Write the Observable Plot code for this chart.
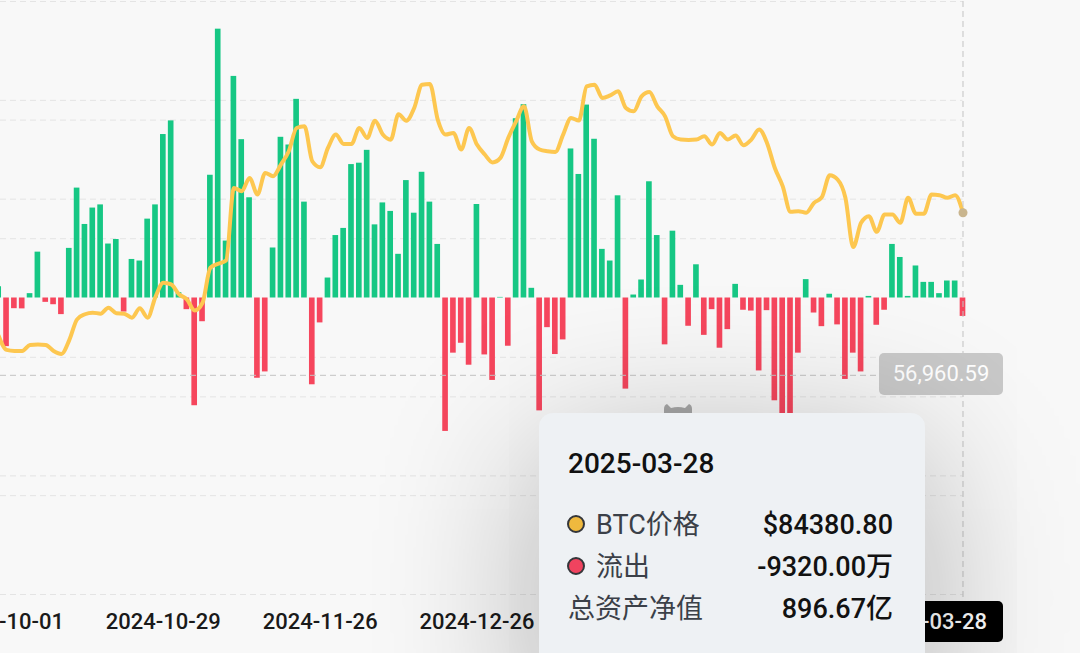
<!DOCTYPE html>
<html>
<head>
<meta charset="utf-8">
<script src="https://cdn.jsdelivr.net/npm/d3@7"></script>
<script src="https://cdn.jsdelivr.net/npm/@observablehq/plot@0.6"></script>
<style>
html,body{margin:0;padding:0;background:#f8f8f8;}
#wrap{position:relative;width:1080px;height:653px;overflow:hidden;background:#f8f8f8;font-family:Roboto,"Noto Sans CJK SC",sans-serif;}
#chart{position:absolute;left:0;top:0;}
#priceTag{position:absolute;left:879px;top:353px;width:124px;height:42px;line-height:42px;background:#c9c9c9;color:#fff;border-radius:5px;text-align:center;font-size:22px;}
#dateTag{position:absolute;left:868px;top:601px;width:135px;height:41px;line-height:41px;background:#000;color:#fff;border-radius:5px;text-align:right;padding-right:16px;box-sizing:border-box;font-size:22px;font-weight:500;}
#logo{position:absolute;left:660px;top:403px;width:36px;height:20px;}
#tip{position:absolute;left:539px;top:413px;width:386px;height:290px;background:#eef1f4;border-radius:14px;box-shadow:0 40px 160px rgba(0,0,0,0.32);}
#tip .row{position:absolute;height:40px;line-height:40px;white-space:nowrap;}
#tip .lab{color:#3b4048;font-size:27px;}
#tip .val{color:#121212;font-size:27px;text-align:right;right:32px;font-weight:500;}
#tip .dot{position:absolute;width:14px;height:14px;border-radius:50%;border:2.5px solid #34363a;}
</style>
</head>
<body>
<div id="wrap">
  <div id="chart"></div>
  <div id="priceTag"></div>
  <div id="dateTag"></div>
  <svg id="logo" viewBox="0 0 36 20"><path d="M4 20 L4 6 Q4 2 7 1 L11 5 Q18 3 25 5 L29 1 Q32 2 32 6 L32 20 Z" fill="#a9a9a9"/></svg>
  <div id="tip">
    <div class="row" id="tDate" style="left:29px;top:31px;font-size:28px;color:#111;font-weight:500;"></div>
    <div class="dot" style="left:28px;top:102px;background:#efb93e;"></div>
    <div class="row lab" style="left:57px;top:92px;">BTC价格</div>
    <div class="row val" id="tPrice" style="top:92px;"></div>
    <div class="dot" style="left:28px;top:144px;background:#f0435f;"></div>
    <div class="row lab" id="tFlowLab" style="left:57px;top:134px;"></div>
    <div class="row val" id="tFlow" style="top:134px;"></div>
    <div class="row lab" style="left:29px;top:176px;">总资产净值</div>
    <div class="row val" id="tNav" style="top:176px;"></div>
  </div>
</div>
<script>
// ---- data ----
const dates = [
"2024-09-30",
"2024-10-01","2024-10-02","2024-10-03","2024-10-04","2024-10-07","2024-10-08","2024-10-09","2024-10-10","2024-10-11","2024-10-14","2024-10-15","2024-10-16","2024-10-17","2024-10-18","2024-10-21","2024-10-22","2024-10-23","2024-10-24","2024-10-25","2024-10-28","2024-10-29","2024-10-30","2024-10-31",
"2024-11-01","2024-11-04","2024-11-05","2024-11-06","2024-11-07","2024-11-08","2024-11-11","2024-11-12","2024-11-13","2024-11-14","2024-11-15","2024-11-18","2024-11-19","2024-11-20","2024-11-21","2024-11-22","2024-11-25","2024-11-26","2024-11-27","2024-11-29",
"2024-12-02","2024-12-03","2024-12-04","2024-12-05","2024-12-06","2024-12-09","2024-12-10","2024-12-11","2024-12-12","2024-12-13","2024-12-16","2024-12-17","2024-12-18","2024-12-19","2024-12-20","2024-12-23","2024-12-24","2024-12-26","2024-12-27","2024-12-30","2024-12-31",
"2025-01-02","2025-01-03","2025-01-06","2025-01-07","2025-01-08","2025-01-10","2025-01-13","2025-01-14","2025-01-15","2025-01-16","2025-01-17","2025-01-21","2025-01-22","2025-01-23","2025-01-24","2025-01-27","2025-01-28","2025-01-29","2025-01-30","2025-01-31",
"2025-02-03","2025-02-04","2025-02-05","2025-02-06","2025-02-07","2025-02-10","2025-02-11","2025-02-12","2025-02-13","2025-02-14","2025-02-18","2025-02-19","2025-02-20","2025-02-21","2025-02-24","2025-02-25","2025-02-26","2025-02-27","2025-02-28",
"2025-03-03","2025-03-04","2025-03-05","2025-03-06","2025-03-07","2025-03-10","2025-03-11","2025-03-12","2025-03-13","2025-03-14","2025-03-17","2025-03-18","2025-03-19","2025-03-20","2025-03-21","2025-03-24","2025-03-25","2025-03-26","2025-03-27","2025-03-28"];

// daily net flow, million USD
const netFlow = [
57,
-246,-54,-55,22,232,-22,-34,-84,251,556,372,455,471,273,296,-71,195,187,399,471,827,896,27,
-59,-545,-120,621,1360,288,1121,801,507,-406,-374,253,813,774,1005,485,-439,-126,101,316,
352,675,682,747,370,481,438,221,594,429,636,485,271,-675,-279,-229,-340,473,-288,-417,3,
-244,907,978,49,-571,-150,-286,-212,754,625,976,803,246,187,517,-461,15,91,588,316,
-237,338,64,-143,168,-189,-59,-254,-160,69,-62,-66,-369,-64,-520,-938,-755,-279,93,
-76,-145,19,-136,-412,-279,-374,8,-138,-62,271,205,8,162,79,79,22,86,86,-93.2];

// BTC price, USD
const btcPrice = [
63600,
61250,61080,61080,62090,62170,62090,61080,60570,62900,66400,67260,67530,67360,68370,67425,67360,66690,68260,66690,70200,72580,72300,70620,
69780,67900,69200,75100,75770,76340,88570,88010,90250,87470,91100,90540,92500,94750,98670,98960,93060,92050,95300,97560,
95980,95980,98670,97000,99900,97560,96700,101000,99900,102050,105970,106100,100080,97560,97840,95040,98670,95870,94190,92860,93620,
97000,99800,102320,96430,95040,94750,94630,97560,100360,99920,105690,105970,103730,104170,104850,102050,101480,104000,104730,102320,
100640,97280,96720,96660,96720,97280,95870,97840,96720,97400,95760,96720,98400,96150,91930,88860,84530,84650,84370,
86050,87000,90700,89980,86900,78590,82680,83800,81160,84090,84090,82680,86900,84200,84200,87460,87340,86900,87340,84380.80];

const xTickDates = ["2024-10-01","2024-10-29","2024-11-26","2024-12-26"];
const flowGrid = [-1500,-1000,-500,500,1000,1500];          // million USD
const priceGrid = [20000,40000,60000,80000,100000,120000];  // USD
const crosshairPrice = 56960.59;
const totalNetAssets = 896.67; // 亿

// ---- chart ----
const data = dates.map((d, i) => ({i, date: d, flow: netFlow[i], price: btcPrice[i]}));
const last = data.length - 1;
const priceToFlow = d3.scaleLinear().domain([20000, 120000]).range([-1500, 1500]);
const xTicks = xTickDates.map(d => dates.indexOf(d));
const gridStyle = {stroke: "#e4e4e4", strokeDasharray: "6,4", strokeWidth: 1};
const crossStyle = {stroke: "#c3c3c3", strokeDasharray: "6,4", strokeWidth: 1};

const chart = Plot.plot({
  width: 1080,
  height: 653,
  marginTop: 1,
  marginBottom: 59,
  marginLeft: 0,
  marginRight: 117.5,
  style: {background: "transparent", fontFamily: "Roboto, sans-serif", fontSize: "22px", fontWeight: "500", color: "#1a1a1a", overflow: "hidden"},
  x: {type: "linear", domain: [0.23, last], ticks: xTicks, tickFormat: i => dates[i], tickSize: 0, tickPadding: 19, label: null},
  y: {domain: [-1500, 1500], axis: null},
  marks: [
    Plot.ruleY(flowGrid, gridStyle),
    Plot.ruleY(priceGrid.map(p => priceToFlow(p)), gridStyle),
    Plot.rect(data.filter(d => d.flow >= 0), {x1: d => d.i - 0.36, x2: d => d.i + 0.36, y1: 0, y2: "flow", fill: "#16c784"}),
    Plot.rect(data.filter(d => d.flow < 0), {x1: d => d.i - 0.36, x2: d => d.i + 0.36, y1: 0, y2: "flow", fill: "#f6465d"}),
    Plot.lineY(data, {x: "i", y: d => priceToFlow(d.price), stroke: "#fdc750", strokeWidth: 4, curve: "monotone-x"}),
    Plot.ruleY([priceToFlow(crosshairPrice)], crossStyle),
    Plot.ruleX([last], {...crossStyle, y1: 1500, y2: -1530}),
    Plot.dot([data[last]], {x: "i", y: d => priceToFlow(d.price), r: 4.5, fill: "#c9b58e", stroke: "none"})
  ]
});
document.getElementById("chart").appendChild(chart);

// ---- crosshair labels & tooltip ----
const L = data[last];
document.getElementById("priceTag").textContent = d3.format(",.2f")(crosshairPrice);
document.getElementById("dateTag").textContent = L.date;
document.getElementById("tDate").textContent = L.date;
document.getElementById("tPrice").textContent = "$" + L.price.toFixed(2);
document.getElementById("tFlowLab").textContent = L.flow < 0 ? "流出" : "流入";
document.getElementById("tFlow").textContent = (L.flow * 100).toFixed(2) + "万";
document.getElementById("tNav").textContent = totalNetAssets.toFixed(2) + "亿";
</script>
</body>
</html>
